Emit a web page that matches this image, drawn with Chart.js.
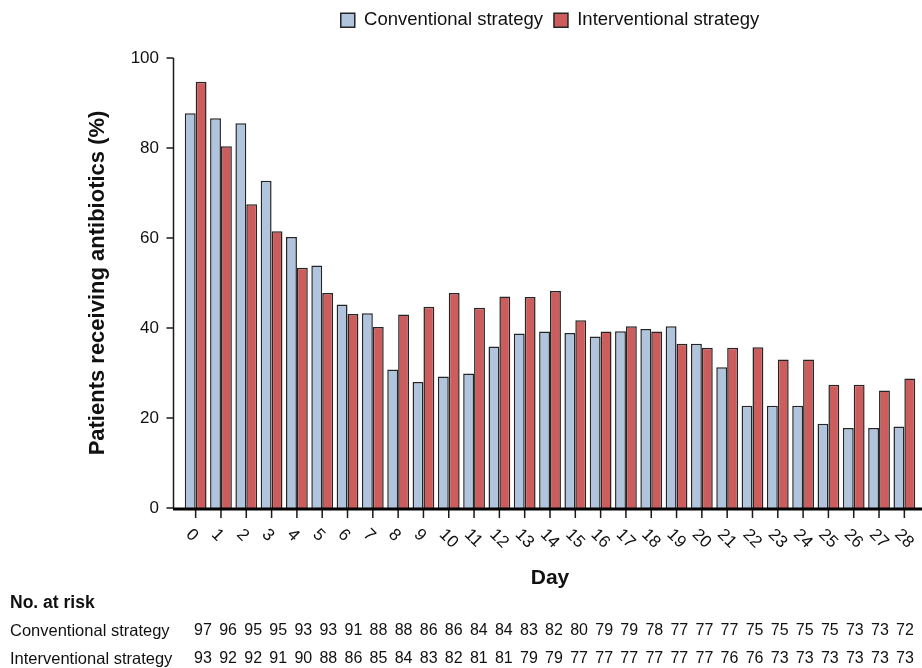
<!DOCTYPE html>
<html>
<head>
<meta charset="utf-8">
<script src="https://cdn.jsdelivr.net/npm/chart.js@4.4.0/dist/chart.umd.min.js"></script>
<style>
  html, body { margin: 0; padding: 0; background: #fff; }
</style>
</head>
<body>
<canvas id="chart" width="922" height="668"></canvas>
<script>
const days = ['0', '1', '2', '3', '4', '5', '6', '7', '8', '9', '10', '11', '12', '13', '14',
  '15', '16', '17', '18', '19', '20', '21', '22', '23', '24', '25', '26', '27', '28'];

const conventional = [87.7, 86.6, 85.5, 72.7, 60.2, 53.9, 45.2, 43.3, 30.8, 28.0, 29.2, 29.9, 35.9, 38.8, 39.2,
  38.9, 38.1, 39.3, 39.8, 40.4, 36.5, 31.3, 22.7, 22.7, 22.7, 18.7, 17.8, 17.8, 18.1];
const interventional = [94.7, 80.4, 67.5, 61.5, 53.4, 47.8, 43.1, 40.2, 43.0, 44.7, 47.8, 44.5, 47.0, 46.9, 48.2,
  41.7, 39.2, 40.4, 39.2, 36.5, 35.6, 35.6, 35.7, 33.0, 33.0, 27.4, 27.4, 26.1, 28.8];

const riskConventional = [97, 96, 95, 95, 93, 93, 91, 88, 88, 86, 86, 84, 84, 83, 82,
  80, 79, 79, 78, 77, 77, 77, 75, 75, 75, 75, 73, 73, 72];
const riskInterventional = [93, 92, 92, 91, 90, 88, 86, 85, 84, 83, 82, 81, 81, 79, 79,
  77, 77, 77, 77, 77, 77, 76, 76, 73, 73, 73, 73, 73, 73];

const FONT = '"Liberation Sans", Arial, sans-serif';
Chart.defaults.font.family = FONT;
Chart.defaults.color = '#111';

// axes, rotated day labels and the "No. at risk" table
const axesAndTable = {
  id: 'axesAndTable',
  afterInit(chart) {
    const fit = chart.legend.fit;
    chart.legend.fit = function () {
      fit.call(this);
      this.height += 18.5;
    };
  },
  afterDraw(chart) {
    const ctx = chart.ctx;
    const xs = chart.scales.x;
    const ys = chart.scales.y;
    const spineX = chart.chartArea.left - 9.5;
    const baseY = ys.getPixelForValue(0);

    ctx.save();
    ctx.strokeStyle = '#1a1a1a';

    // y spine + ticks
    ctx.lineWidth = 1.5;
    ctx.beginPath();
    ctx.moveTo(spineX, ys.getPixelForValue(100));
    ctx.lineTo(spineX, baseY + 1);
    ys.ticks.forEach(t => {
      const y = ys.getPixelForValue(t.value);
      ctx.moveTo(spineX - 7, y);
      ctx.lineTo(spineX, y);
    });
    ctx.stroke();

    // x ticks
    ctx.beginPath();
    days.forEach((d, i) => {
      const x = xs.getPixelForTick(i);
      ctx.moveTo(x, baseY + 1);
      ctx.lineTo(x, baseY + 10);
    });
    ctx.stroke();

    // x axis line
    ctx.strokeStyle = '#000';
    ctx.lineWidth = 3;
    ctx.beginPath();
    ctx.moveTo(spineX - 0.5, baseY + 1);
    ctx.lineTo(chart.width, baseY + 1);
    ctx.stroke();

    // rotated day labels
    ctx.fillStyle = '#111';
    ctx.font = '17px ' + FONT;
    ctx.textAlign = 'left';
    ctx.textBaseline = 'middle';
    days.forEach((d, i) => {
      ctx.save();
      ctx.translate(xs.getPixelForTick(i) - 7, baseY + 24);
      ctx.rotate(Math.PI / 4);
      ctx.fillText(d, 0, 0);
      ctx.restore();
    });

    // No. at risk table
    ctx.font = 'bold 17.5px ' + FONT;
    ctx.fillText('No. at risk', 10, 603);
    ctx.font = '16.5px ' + FONT;
    ctx.fillText('Conventional strategy', 10, 631);
    ctx.fillText('Interventional strategy', 10, 659);
    ctx.font = '16px ' + FONT;
    ctx.textAlign = 'center';
    const firstX = 203, lastX = 905;
    const step = (lastX - firstX) / (days.length - 1);
    riskConventional.forEach((v, i) => ctx.fillText(String(v), firstX + step * i, 631));
    riskInterventional.forEach((v, i) => ctx.fillText(String(v), firstX + step * i, 659));
    ctx.restore();
  }
};

new Chart(document.getElementById('chart'), {
  type: 'bar',
  data: {
    labels: days,
    datasets: [
      {
        label: 'Conventional strategy',
        data: conventional,
        backgroundColor: '#b0c4de',
        borderColor: '#252525',
        borderWidth: 1.5
      },
      {
        label: 'Interventional strategy',
        data: interventional,
        backgroundColor: '#cd5c5c',
        borderColor: '#252525',
        borderWidth: 1.5
      }
    ]
  },
  options: {
    responsive: false,
    animation: false,
    categoryPercentage: 0.86,
    barPercentage: 1.0,
    layout: { padding: { top: 0, right: 5, left: 0, bottom: 0 } },
    plugins: {
      legend: {
        position: 'top',
        fullSize: false,
        labels: {
          font: { size: 18.5 },
          color: '#111',
          boxWidth: 14,
          boxHeight: 14,
          padding: 11
        }
      },
      tooltip: { enabled: false }
    },
    scales: {
      x: {
        grid: { display: false, drawTicks: false },
        border: { display: false },
        ticks: { display: false },
        title: {
          display: true,
          text: 'Day',
          color: '#111',
          font: { size: 21, weight: 'bold' },
          padding: { top: 0, bottom: 77 }
        },
        afterFit(scale) { scale.height = 160; }
      },
      y: {
        min: 0,
        max: 100,
        grid: { display: false, drawTicks: false },
        border: { display: false },
        ticks: { stepSize: 20, color: '#111', font: { size: 17 }, padding: 24 },
        title: {
          display: true,
          text: 'Patients receiving antibiotics (%)',
          color: '#111',
          font: { size: 22, weight: 'bold' },
          padding: { top: 85, bottom: 0 }
        },
        afterFit(scale) { scale.width = 183; }
      }
    }
  },
  plugins: [axesAndTable]
});
</script>
</body>
</html>
